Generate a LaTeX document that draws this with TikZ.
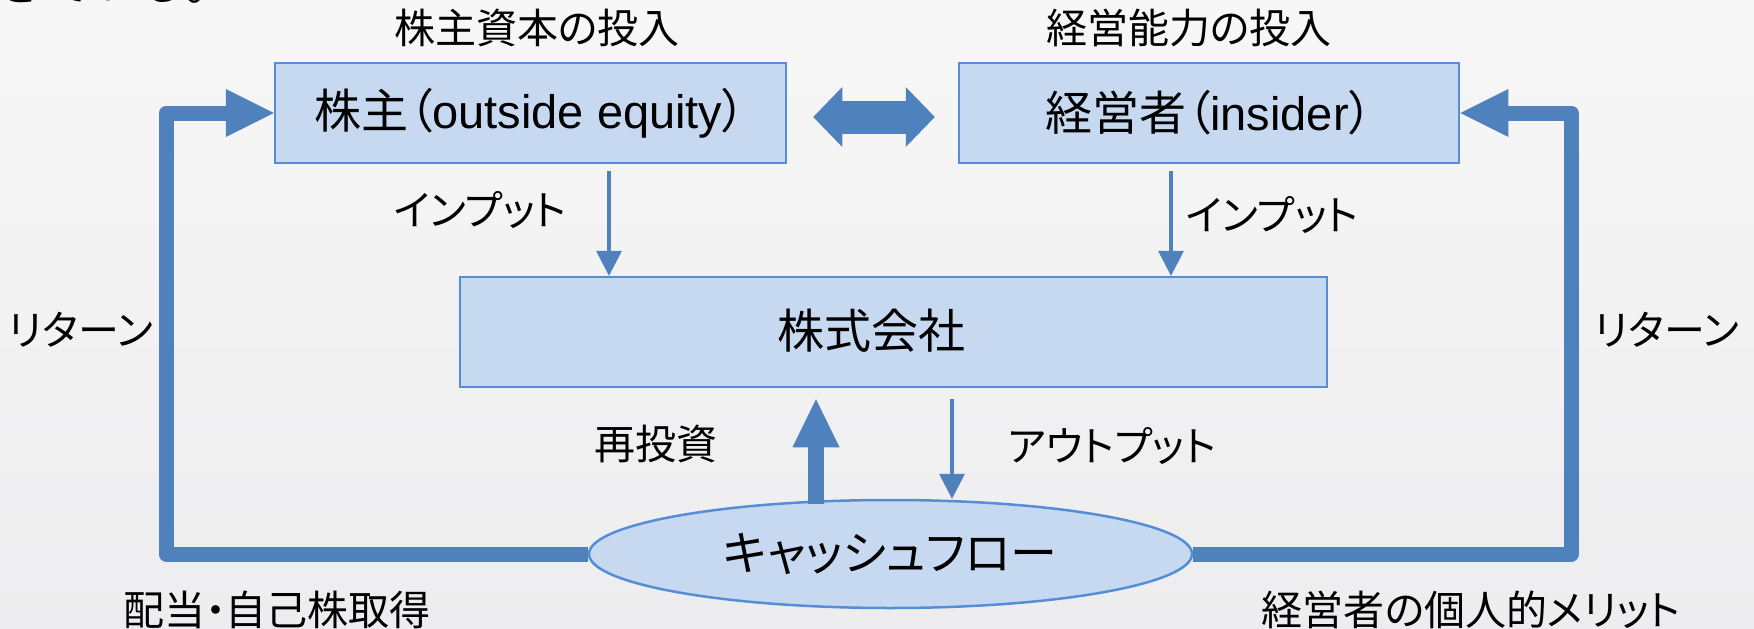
\documentclass[tikz,border=0pt]{standalone}
\usepackage{fontspec}
\newfontfamily\jp[RawFeature=+palt]{Noto Sans CJK JP}
\newfontfamily\jpm{Noto Sans CJK JP}
\newfontfamily\lat{Liberation Sans}
\usetikzlibrary{arrows.meta,shapes.geometric}
\definecolor{bgtop}{HTML}{F7F7F7}
\definecolor{bgbot}{HTML}{EDEDEF}
\definecolor{boxfill}{HTML}{C6D9F1}
\definecolor{boxline}{HTML}{558ED5}
\definecolor{arr}{HTML}{4F81BD}
\tikzset{
  box/.style={draw=boxline, fill=boxfill, line width=2.5pt, rectangle, inner sep=0pt,
    font=\jp\fontsize{47}{56}\selectfont},
  oval/.style={draw=boxline, fill=boxfill, line width=2.5pt, ellipse, inner sep=0pt,
    font=\jp\fontsize{47}{56}\selectfont},
  boxtext/.style={inner sep=0pt, font=\jp\fontsize{47}{56}\selectfont},
  lbl/.style={inner sep=0pt, font=\jp\fontsize{41}{49}\selectfont},
  looparrow/.style={draw=arr, line width=15pt, line join=round,
    -{Triangle[length=48pt 0 0, width=48pt 0 0, line width=0pt]}},
  dblarrow/.style={draw=arr, line width=33pt,
    {Triangle[length=29pt 0 0, width=60pt 0 0, line width=0pt]}-{Triangle[length=29pt 0 0, width=60pt 0 0, line width=0pt]}},
  inarrow/.style={draw=arr, line width=4.5pt,
    -{Triangle[length=25pt 0 0, width=26pt 0 0, line width=0pt]}},
  bigarrow/.style={draw=arr, line width=16pt,
    -{Triangle[length=48pt 0 0, width=47pt 0 0, line width=0pt]}}
}
\begin{document}
\begin{tikzpicture}[x=1pt,y=-1pt]
\useasboundingbox (0,0) rectangle (1754,629);
\shade[top color=bgtop,bottom color=bgbot] (0,0) rectangle (1754,629);

% cut-off text at the top edge
\node[anchor=base west, inner sep=0pt, font=\jpm\fontsize{47}{56}\selectfont] (cut) at (-3,0) {きている。};

% top labels
\node[lbl] (t1) at (537,28) {株主資本の投入};
\node[lbl] (t2) at (1189,28) {経営能力の投入};

% boxes
\node[box, minimum width=511pt, minimum height=100pt] (sh) at (530.5,113) {株主（{\lat outside equity}）};
\node[box, minimum width=500pt, minimum height=100pt] (mg) at (1209,113) {経営者（{\lat insider}）};
\node[box, minimum width=867pt, minimum height=110pt] (corp) at (893.5,332) {};
\node[boxtext] (corpt) at (871,331) {株式会社};
\node[oval, minimum width=603pt, minimum height=108pt] (cf) at (890.5,554) {キャッシュフロー};

% helper coordinates
\coordinate (x1) at (609,0);
\coordinate (x2) at (1171,0);
\coordinate (x3) at (952,0);
\coordinate (x4) at (816,0);
\coordinate (LT) at (166,113);
\coordinate (RT) at (1571,113);

% return loops
\draw[looparrow] (cf.west) -| (LT) -- (sh.west);
\draw[looparrow] (cf.east) -| (RT) -- (mg.east);

% double arrow between the two top boxes
\draw[dblarrow, shorten <=26pt, shorten >=23pt] ([yshift=-4pt]sh.east) -- ([yshift=-4pt]mg.west);

% input arrows
\draw[inarrow, shorten <=7pt] (sh.south -| x1) -- (corp.north -| x1);
\draw[inarrow, shorten <=7pt] (mg.south -| x2) -- (corp.north -| x2);

% output arrow
\draw[inarrow, shorten <=11pt] (corp.south -| x3) -- (cf.north -| x3);

% reinvestment arrow
\draw[bigarrow, shorten <=-5pt, shorten >=11pt] (cf.north -| x4) -- (corp.south -| x4);

% labels
\node[lbl] (in1) at (480,210) {インプット};
\node[lbl] (in2) at (1272,215) {インプット};
\node[lbl] (rl) at (81,330) {リターン};
\node[lbl] (rr) at (1667,330) {リターン};
\node[lbl] (re) at (656,444) {再投資};
\node[lbl] (out) at (1112,446) {アウトプット};
\node[lbl] (div) at (277,610) {配当・自己株取得};
\node[lbl] (mb) at (1471,610) {経営者の個人的メリット};
\end{tikzpicture}
\end{document}
